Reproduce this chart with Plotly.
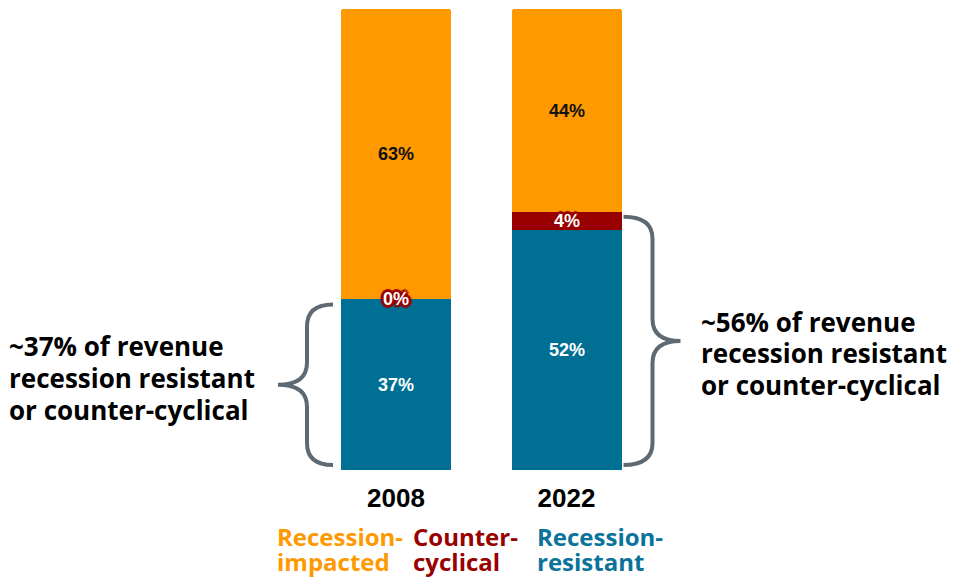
import plotly.graph_objects as go

# ---------------- data ----------------
years = ["2008", "2022"]
series_names = ["Recession-impacted", "Counter-cyclical", "Recession-resistant"]
resistant = [37, 52]
counter = [0, 4]
impacted = [63, 44]

# ---------------- style ----------------
C_ORANGE = "#FF9900"
C_RED = "#990000"
C_BLUE = "#006F94"
C_BRACE = "#5E6A73"
LABEL_FONT = "Arial, Liberation Sans, sans-serif"
NOTE_FONT = "Open Sans, Noto Sans, sans-serif"

OFF = 8                 # page body margin of the viewer
W, H = 957 - OFF, 578 - OFF
PLOT_TOP, PLOT_BOT = 9 - OFF, 470 - OFF
MT, MB = PLOT_TOP, H - PLOT_BOT
X0_PX = 396.0 - OFF     # pixel of first category
PX_PER_X = 170.5        # pixels per category step
PX_PER_Y = (PLOT_BOT - PLOT_TOP) / 100.0
BAR_W = 110 / PX_PER_X
xs = list(range(len(years)))
x_range = [-X0_PX / PX_PER_X, (W - X0_PX) / PX_PER_X]


def px_x(p):   # page pixel (reference coords) -> paper x
    return (p - OFF) / W


def px_y(p):   # page pixel (reference coords) -> paper y (plot area)
    return (PLOT_BOT - (p - OFF)) / (PLOT_BOT - PLOT_TOP)


fig = go.Figure()

stack = [
    (series_names[2], resistant, C_BLUE, "white"),
    (series_names[1], counter, C_RED, "white"),
    (series_names[0], impacted, C_ORANGE, "#111111"),
]
for name, vals, col, tcol in stack:
    is_counter = vals is counter
    fig.add_bar(
        x=xs, y=vals, name=name, width=BAR_W,
        marker=dict(color=col, line=dict(width=0)),
        text=None if is_counter else [f"{v}%" for v in vals],
        textposition="inside", insidetextanchor="middle", textangle=0,
        textfont=dict(family=LABEL_FONT, size=18, color=tcol, weight="bold"),
        showlegend=False, hoverinfo="skip",
    )

annotations = []
# counter-cyclical labels (segment can be zero height -> annotation)
shadow = ", ".join(f"{dx}px {dy}px 1px {C_RED}" for dx, dy in
                   [(-2, -2), (2, -2), (-2, 2), (2, 2), (0, 3), (0, -3), (3, 0), (-3, 0)])
for i in xs:
    annotations.append(dict(
        x=xs[i], y=resistant[i] + counter[i] / 2, xref="x", yref="y",
        text=f"{counter[i]}%", showarrow=False,
        font=dict(family=LABEL_FONT, size=18, color="white", weight="bold", shadow=shadow),
        xanchor="center", yanchor="middle",
    ))

# braces
shapes = []


def brace(i, side):
    top = resistant[i] + counter[i]
    yb = 0 + 5 / PX_PER_Y
    yt = top - 5 / PX_PER_Y
    ym = top / 2
    r = 22 / PX_PER_Y
    if side == "left":
        edge = xs[i] - BAR_W / 2
        xe, xv, xt = edge - 8 / PX_PER_X, edge - 34 / PX_PER_X, edge - 63 / PX_PER_X
    else:
        edge = xs[i] + BAR_W / 2
        xe, xv, xt = edge + 2 / PX_PER_X, edge + 31 / PX_PER_X, edge + 59 / PX_PER_X
    path = (f"M {xe},{yt} Q {xv},{yt} {xv},{yt - r} L {xv},{ym + r} "
            f"Q {xv},{ym} {xt},{ym} Q {xv},{ym} {xv},{ym - r} "
            f"L {xv},{yb + r} Q {xv},{yb} {xe},{yb}")
    shapes.append(dict(type="path", path=path, xref="x", yref="y",
                       line=dict(color=C_BRACE, width=4)))


brace(0, "left")
brace(1, "right")

# brace notes: (bar index, left x px, block-centre offset px (down), line spacing px)
for i, left_px, off_px, lsp in [(0, 7, -6.5, 32), (1, 699, 12.5, 31.5)]:
    share = resistant[i] + counter[i]
    lines = [f"~{share}% of revenue", "recession resistant", "or counter-cyclical"]
    for k, line in enumerate(lines):
        annotations.append(dict(
            x=px_x(left_px), xref="paper", y=share / 2, yref="y",
            text=line, showarrow=False, xanchor="left", yanchor="middle", align="left",
            yshift=-(off_px + (k - 1) * lsp),
            font=dict(family=NOTE_FONT, size=26, color="#000000", weight="bold"),
        ))

# legend as coloured text
leg_colors = [C_ORANGE, C_RED, "#0A7399"]
leg_x = [275, 411, 535]
for name, col, lx in zip(series_names, leg_colors, leg_x):
    a, b = name.split("-", 1)
    for txt, ly in [(a + "-", 536.5), (b, 561.5)]:
        annotations.append(dict(
            x=px_x(lx), xref="paper", y=px_y(ly), yref="paper", yanchor="middle",
            xanchor="left", text=txt, showarrow=False,
            font=dict(family=NOTE_FONT, size=24, color=col, weight="bold"),
        ))

fig.update_layout(
    width=W, height=H, barmode="stack", bargap=0,
    barcornerradius=3,
    margin=dict(l=0, r=0, t=MT, b=MB, pad=0),
    paper_bgcolor="white", plot_bgcolor="white",
    xaxis=dict(range=x_range, tickvals=xs, ticktext=years, showgrid=False,
               zeroline=False, showline=False, ticks="", ticklabelstandoff=10,
               tickfont=dict(family=LABEL_FONT, size=26, color="#000000", weight="bold"),
               fixedrange=True),
    yaxis=dict(range=[0, 100], visible=False, fixedrange=True),
    shapes=shapes, annotations=annotations,
    uniformtext=dict(minsize=18, mode="show"),
)

fig.write_html("out.html")
